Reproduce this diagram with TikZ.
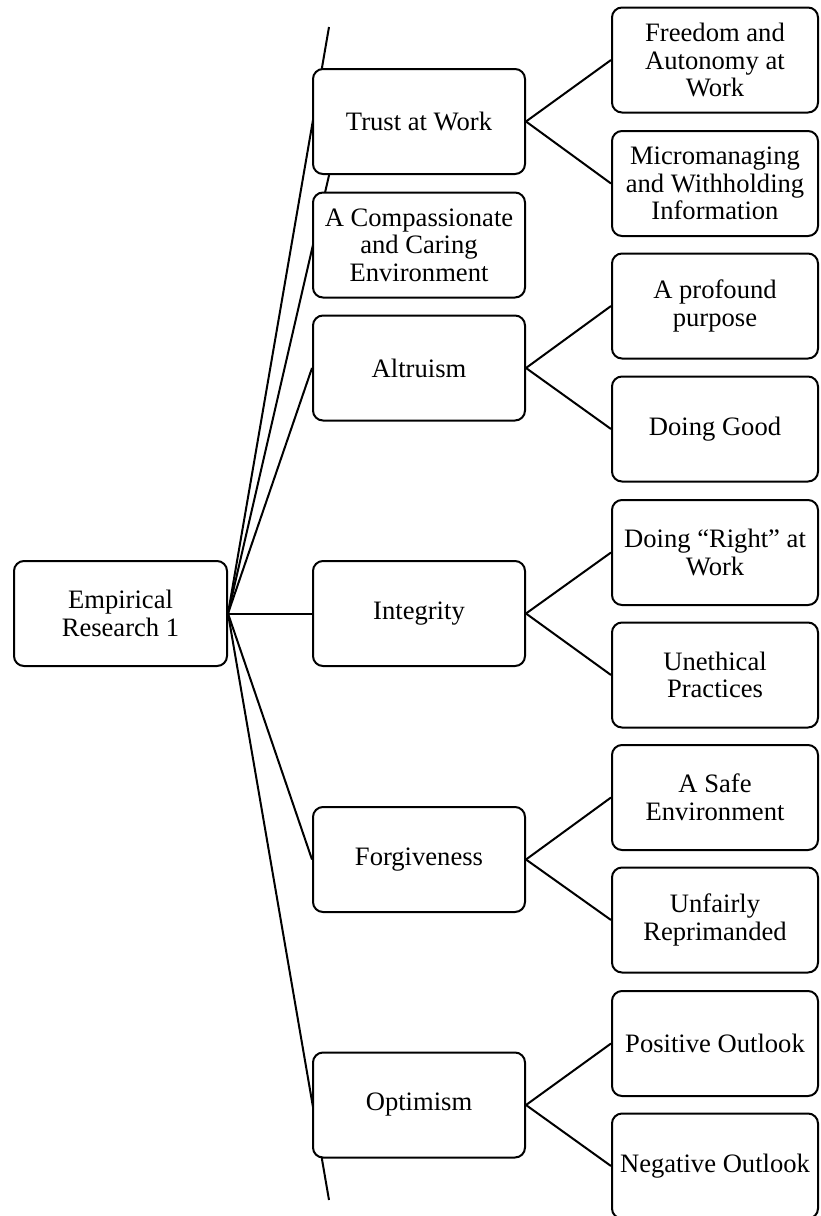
\documentclass[tikz,border=0pt]{standalone}
\usepackage{fontspec}
\setmainfont{Liberation Serif}
\usetikzlibrary{backgrounds}

\tikzset{
  box/.style={draw=black, fill=white, line width=2pt, rounded corners=10pt,
    align=center, inner sep=0pt, minimum height=105pt,
    font=\fontsize{26.6}{27.5}\selectfont},
  rootbox/.style={box, minimum width=213pt},
  midbox/.style={box, minimum width=212pt},
  leafbox/.style={box, minimum width=206pt},
  link/.style={draw=black, line width=2pt}
}

\begin{document}
\begin{tikzpicture}[x=1pt, y=-1pt]
  \clip (0,0) rectangle (820,1216);

  % root
  \node[rootbox] (root) at (120.5,613.5) {Empirical\\Research 1};

  % second level
  \node[midbox] (trust) at (419,121.5) {Trust at Work};
  \node[midbox] (comp)  at (419,245)   {A Compassionate\\and Caring\\Environment};
  \node[midbox] (altr)  at (419,368)   {Altruism};
  \node[midbox] (integ) at (419,613.5) {Integrity};
  \node[midbox] (forg)  at (419,859.5) {Forgiveness};
  \node[midbox] (opti)  at (419,1105)  {Optimism};

  % third level
  \node[leafbox] (free)  at (715,60)     {Freedom and\\Autonomy at\\Work};
  \node[leafbox] (micro) at (715,183.5)  {Micromanaging\\and Withholding\\Information};
  \node[leafbox] (prof)  at (715,306)    {A profound\\purpose};
  \node[leafbox] (good)  at (715,429)    {Doing Good};
  \node[leafbox] (right) at (715,552.5)  {Doing “Right” at\\Work};
  \node[leafbox] (uneth) at (715,675)    {Unethical\\Practices};
  \node[leafbox] (safe)  at (715,797.5)  {A Safe\\Environment};
  \node[leafbox] (unfair) at (715,920)   {Unfairly\\Reprimanded};
  \node[leafbox] (pos)   at (715,1043.5) {Positive Outlook};
  \node[leafbox] (neg)   at (715,1166)   {Negative Outlook};

  % free ends of the long root connectors
  \coordinate (topend) at (329,27);
  \coordinate (compend) at (336,145);
  \coordinate (botend) at (329,1200);

  \begin{scope}[on background layer]
    \draw[link] (root.east) -- (topend);
    \draw[link] (root.east) -- (compend);
    \draw[link] (root.east) -- (altr.west);
    \draw[link] (root.east) -- (integ.west);
    \draw[link] (root.east) -- (forg.west);
    \draw[link] (root.east) -- (botend);

    \draw[link] (trust.east) -- (free.west);
    \draw[link] (trust.east) -- (micro.west);
    \draw[link] (altr.east) -- (prof.west);
    \draw[link] (altr.east) -- (good.west);
    \draw[link] (integ.east) -- (right.west);
    \draw[link] (integ.east) -- (uneth.west);
    \draw[link] (forg.east) -- (safe.west);
    \draw[link] (forg.east) -- (unfair.west);
    \draw[link] (opti.east) -- (pos.west);
    \draw[link] (opti.east) -- (neg.west);
  \end{scope}
\end{tikzpicture}
\end{document}
